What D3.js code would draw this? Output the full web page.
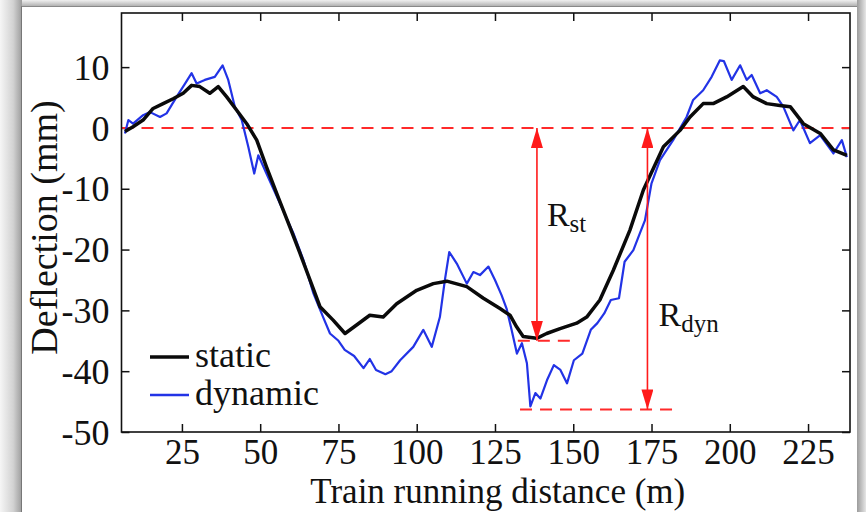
<!DOCTYPE html>
<html>
<head>
<meta charset="utf-8">
<script src="https://d3js.org/d3.v7.min.js"></script>
<style>
  body { margin: 0; background: #fff; }
  text { font-family: "Liberation Serif", "DejaVu Serif", serif; fill: #111; }
</style>
</head>
<body>
<script>
// Deflection vs train running distance, static and dynamic

const xTicks = [25, 50, 75, 100, 125, 150, 175, 200, 225];
const yTicks = [10, 0, -10, -20, -30, -40, -50];

const staticX = [6.8, 9.4, 12.6, 15.8, 19, 22.2, 25.4, 28.1, 30.7, 33.9, 36.6, 39.3, 42.5, 45.7, 48.9,
  52, 55.3, 59.5, 62.7, 65.9, 69.1, 73.3, 77.1, 80.8, 85, 89.3, 93.6, 100, 105.3, 109.6,
  116, 121.3, 126.6, 129.8, 131.9, 134, 138.3, 141.5, 145.8, 151.1, 154.3, 158.5, 162.8, 168.1, 172.4,
  178.8, 184.1, 187.3, 191.5, 194.7, 199, 204.3, 207.5, 211.8, 216, 219.3, 223.5, 228.9, 233.1, 237.4];
const staticY = [-0.6, 0.2, 1.3, 3.2, 4.0, 4.8, 5.7, 7.0, 6.8, 5.7, 6.8, 5.1, 2.9, 0.7, -2.0,
  -6.4, -10.8, -16.3, -20.6, -25, -29.4, -31.6, -33.8, -32.4, -30.8, -31.1, -28.9, -26.7, -25.6, -25.2,
  -26.1, -28, -29.7, -30.8, -32.7, -34.3, -34.6, -33.8, -33, -32.1, -31.1, -28.3, -23.4, -16.8, -10.2,
  -3.1, -0.4, 1.8, 4.0, 4.0, 5.1, 6.8, 5.1, 4.0, 3.7, 3.5, 0.7, -0.9, -3.6, -4.5];

const dynamicX = [6.8, 7.9, 9.4, 12.6, 14.8, 18, 20.1, 23.3, 26, 28.1, 29.7, 32.3, 35.5, 38, 39.8,
  41.9, 44.1, 46.2, 48.1, 49.4, 52, 56.3, 60.6, 63.8, 67, 70.1, 72.3, 75, 77, 80,
  83, 85, 87, 90, 92, 94.7, 98.9, 102.1, 104.8, 107.4, 109, 110.4, 112.8, 116, 118.1,
  120.2, 122.9, 125, 127.1, 128.7, 130.3, 132, 133.6, 135.2, 136.3, 137.9, 139.5, 141.6, 143.8, 145.9,
  148, 150.2, 152.9, 155.6, 157.7, 159.9, 162, 164.6, 166.4, 169.2, 171.3, 172.9, 175, 177.7, 181.9,
  186.2, 188.3, 191.5, 194.2, 196.8, 198.1, 200.6, 203.3, 205.4, 207, 209.7, 211.8, 215, 217.1, 220.3,
  222.4, 225.6, 228.9, 233.1, 235.8, 237.4];
const dynamicY = [-0.9, 1.3, 0.7, 2.1, 2.6, 1.8, 2.4, 5.1, 7.3, 9.0, 7.3, 7.9, 8.4, 10.3, 7.9,
  3.5, 1.3, -3.1, -7.5, -4.5, -7.5, -12.4, -17.3, -21.7, -27.2, -31.1, -33.8, -35.0, -36.5, -37.5,
  -39.5, -38, -39.8, -40.5, -40, -38.2, -36, -33.2, -36, -31.1, -25, -20.4, -22.3, -25.6, -23.7,
  -24.2, -22.8, -25, -27.5, -29.7, -33.2, -37.1, -35.4, -38.7, -45.8, -43.6, -44.5, -41.5, -39, -39.8,
  -42, -38.2, -37.1, -33.2, -32.1, -30.5, -28.3, -28.0, -22.0, -20.1, -17.3, -15.2, -9.1, -5.3, -2.0,
  1.8, 4.6, 6.2, 8.4, 11.1, 11.0, 7.9, 10.3, 7.9, 8.7, 5.7, 6.2, 5.1, 3.5, -0.4,
  1.3, -2.5, -1.2, -4.2, -2.0, -4.8];

// annotation values: [x, yFrom, yTo] and dashed levels [x1, x2, y]
const rst = [138.4, 0, -35];
const rdyn = [173.7, 0, -46.3];
const rstLevel = [132.3, 150.5, -35];
const rdynLevel = [133, 184, -46.3];

const W = 866, H = 512;
const mLeft = 121.5, mRight = 850, mTop = 13, mBottom = 432;

const svg = d3.select("body").append("svg")
  .attr("width", W).attr("height", H);

const defs = svg.append("defs");
const gl = defs.append("linearGradient").attr("id", "shL").attr("x1", 0).attr("x2", 1);
gl.append("stop").attr("offset", 0).attr("stop-color", "#f6f6f6");
gl.append("stop").attr("offset", 0.6).attr("stop-color", "#d2d2d2");
gl.append("stop").attr("offset", 1).attr("stop-color", "#9c9c9c");
const gt = defs.append("linearGradient").attr("id", "shT").attr("x1", 0).attr("x2", 0).attr("y1", 0).attr("y2", 1);
gt.append("stop").attr("offset", 0).attr("stop-color", "#f0f0f0");
gt.append("stop").attr("offset", 1).attr("stop-color", "#a8a8a8");
const gr = defs.append("linearGradient").attr("id", "shR").attr("x1", 0).attr("x2", 1);
gr.append("stop").attr("offset", 0).attr("stop-color", "#9c9c9c");
gr.append("stop").attr("offset", 1).attr("stop-color", "#e6e6e6");

defs.append("marker").attr("id", "arrow")
  .attr("viewBox", "0 0 20 12").attr("refX", 20).attr("refY", 6)
  .attr("markerUnits", "userSpaceOnUse")
  .attr("markerWidth", 20).attr("markerHeight", 12)
  .attr("orient", "auto-start-reverse")
  .append("path").attr("d", "M0,0 L20,6 L0,12 Z").attr("fill", "#ff1a1a");

// frame shadow
svg.append("rect").attr("x", 0).attr("y", 0).attr("width", W).attr("height", H).attr("fill", "#fff");
svg.append("rect").attr("x", 0).attr("y", 0).attr("width", 22).attr("height", H).attr("fill", "url(#shL)");
svg.append("rect").attr("x", 22).attr("y", 0).attr("width", W - 22).attr("height", 7).attr("fill", "url(#shT)");
svg.append("rect").attr("x", 857).attr("y", 0).attr("width", 9).attr("height", H).attr("fill", "url(#shR)");
svg.append("line").attr("x1", 21.5).attr("x2", 21.5).attr("y1", 6).attr("y2", H)
  .attr("stroke", "#777").attr("stroke-width", 1);
svg.append("line").attr("x1", 21.5).attr("x2", 857).attr("y1", 6.5).attr("y2", 6.5)
  .attr("stroke", "#888").attr("stroke-width", 1);

const x = d3.scaleLinear().domain([5.7, 238.4]).range([mLeft, mRight]);
const y = d3.scaleLinear().domain([-50, 18.9]).range([mBottom, mTop]);

const tickStyle = g => {
  g.select(".domain").remove();
  g.selectAll("line").attr("stroke", "#111").attr("stroke-width", 1.5);
  g.selectAll("text").style("font-size", "35px").attr("fill", "#111");
};

svg.append("g").attr("transform", `translate(0,${mBottom})`)
  .call(d3.axisBottom(x).tickValues(xTicks).tickSize(-8).tickPadding(7).tickFormat(d3.format("d")))
  .call(tickStyle);
svg.append("g").attr("transform", `translate(0,${mTop})`)
  .call(d3.axisTop(x).tickValues(xTicks).tickSize(-8).tickFormat(""))
  .call(tickStyle);
svg.append("g").attr("transform", `translate(${mLeft},0)`)
  .call(d3.axisLeft(y).tickValues(yTicks).tickSize(-8).tickPadding(12).tickFormat(d3.format("d")))
  .call(tickStyle)
  .selectAll("text").text(d => String(d)).style("font-size", "36px").attr("dy", "0.34em");
svg.append("g").attr("transform", `translate(${mRight},0)`)
  .call(d3.axisRight(y).tickValues(yTicks).tickSize(-8).tickFormat(""))
  .call(tickStyle);

// red zero line
svg.append("line")
  .attr("x1", x(5.7)).attr("x2", x(238.4)).attr("y1", y(0)).attr("y2", y(0))
  .attr("stroke", "#ff2a2a").attr("stroke-width", 2).attr("stroke-dasharray", "12,8");

const staticData = staticX.map((d, i) => [d, staticY[i]]);
const dynamicData = dynamicX.map((d, i) => [d, dynamicY[i]]);
const line = d3.line().x(d => x(d[0])).y(d => y(d[1]));

svg.append("path").datum(dynamicData).attr("d", line)
  .attr("fill", "none").attr("stroke", "#2233e6").attr("stroke-width", 2.2)
  .attr("stroke-linejoin", "round");
svg.append("path").datum(staticData).attr("d", line)
  .attr("fill", "none").attr("stroke", "#0a0a0a").attr("stroke-width", 3.5)
  .attr("stroke-linejoin", "round");

// dashed levels
[rstLevel, rdynLevel].forEach(l => {
  svg.append("line")
    .attr("x1", x(l[0])).attr("x2", x(l[1])).attr("y1", y(l[2])).attr("y2", y(l[2]))
    .attr("stroke", "#ff2a2a").attr("stroke-width", 2).attr("stroke-dasharray", "12,8");
});

// range arrows
[rst, rdyn].forEach(a => {
  svg.append("line")
    .attr("x1", x(a[0])).attr("x2", x(a[0])).attr("y1", y(a[1])).attr("y2", y(a[2]))
    .attr("stroke", "#ff1a1a").attr("stroke-width", 1.6)
    .attr("marker-start", "url(#arrow)").attr("marker-end", "url(#arrow)");
});

const rLabel = (px, py, sub) => {
  const t = svg.append("text").attr("x", px).attr("y", py).style("font-size", "34px");
  t.append("tspan").text("R");
  t.append("tspan").attr("dy", 6).style("font-size", "25px").text(sub);
};
rLabel(x(rst[0]) + 10, y(-16.1), "st");
rLabel(x(rdyn[0]) + 11, y(-32.6), "dyn");

// axis frame
svg.append("rect").attr("x", mLeft).attr("y", mTop)
  .attr("width", mRight - mLeft).attr("height", mBottom - mTop)
  .attr("fill", "none").attr("stroke", "#111").attr("stroke-width", 1.6);

// legend
const legend = [["static", "#0a0a0a", 3.5], ["dynamic", "#2233e6", 2.5]];
legend.forEach((d, i) => {
  const ly = 357 + i * 38;
  svg.append("line").attr("x1", 150).attr("x2", 189).attr("y1", ly).attr("y2", ly)
    .attr("stroke", d[1]).attr("stroke-width", d[2]);
  svg.append("text").attr("x", 195).attr("y", ly + 10).style("font-size", "36px").text(d[0]);
});

// axis titles
svg.append("text").attr("x", (mLeft + mRight) / 2 + 12).attr("y", 503)
  .attr("text-anchor", "middle").style("font-size", "35px")
  .text("Train running distance (m)");
svg.append("text")
  .attr("transform", `translate(57,${(mTop + mBottom) / 2 + 5}) rotate(-90)`)
  .attr("text-anchor", "middle").style("font-size", "38px")
  .text("Deflection (mm)");
</script>
</body>
</html>
